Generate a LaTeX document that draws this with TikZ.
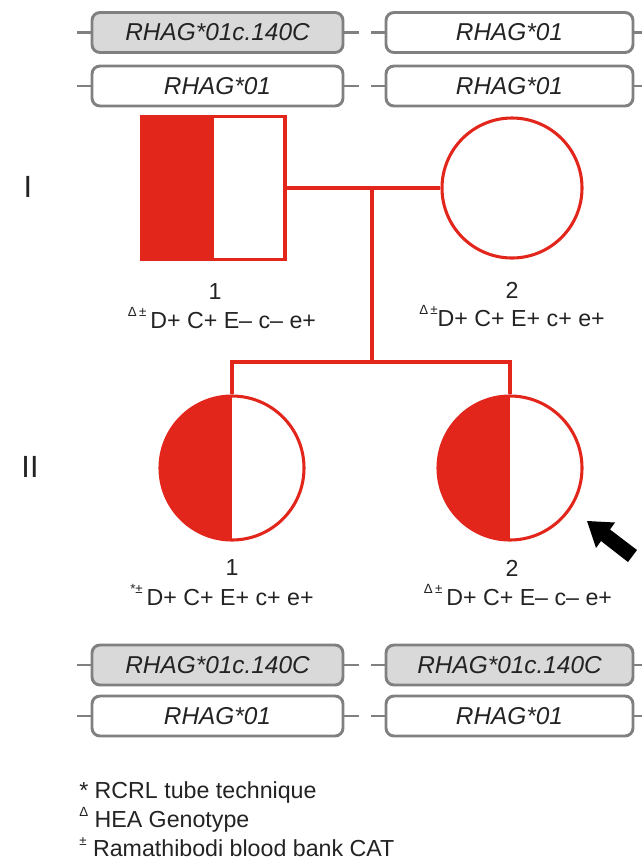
\documentclass[tikz,border=0pt]{standalone}
\usepackage{fontspec}
\setmainfont{Liberation Sans}
\usetikzlibrary{calc}
\definecolor{pedred}{RGB}{226,38,28}
\definecolor{boxgray}{RGB}{128,128,128}
\definecolor{boxfill}{RGB}{217,217,217}
\definecolor{textdark}{RGB}{35,35,35}
\newcommand\mk[1]{\raisebox{0.5em}{\fontsize{10}{10}\selectfont #1}}
\begin{document}
\begin{tikzpicture}[x=0.75pt,y=-0.75pt,
  allele/.style={draw=boxgray, line width=2.2pt, rounded corners=6pt,
    minimum height=30pt, inner sep=0pt, text=textdark,
    font=\fontsize{18.3}{20}\selectfont\itshape},
  variant/.style={allele, fill=boxfill},
  leftbox/.style={minimum width=188.25pt},
  rightbox/.style={minimum width=185.25pt},
  stub/.style={draw=boxgray, line width=2.2pt},
  ped/.style={draw=pedred, line width=2.3pt, inner sep=0pt},
  halffill/.style={path picture={\fill[pedred]
    (path picture bounding box.north west) rectangle (path picture bounding box.south);}},
  lbl/.style={inner sep=0pt, text=textdark, font=\fontsize{17.4}{20}\selectfont},
  gen/.style={inner sep=0pt, text=textdark, font=\fontsize{23}{26}\selectfont},
  leg/.style={inner sep=0pt, anchor=west, text=textdark, font=\fontsize{17.4}{20}\selectfont}]
\useasboundingbox (0,0) rectangle (642,861);

% allele boxes, parents
\node[variant, leftbox] (t1L) at (217.5,32.5) {RHAG*01c.140C};
\node[allele, rightbox] (t1R) at (509.5,32.5) {RHAG*01};
\node[allele, leftbox]  (t2L) at (217.5,86) {RHAG*01};
\node[allele, rightbox] (t2R) at (509.5,86) {RHAG*01};
% allele boxes, children
\node[variant, leftbox]  (b1L) at (217.5,665) {RHAG*01c.140C};
\node[variant, rightbox] (b1R) at (509.5,665) {RHAG*01c.140C};
\node[allele, leftbox]   (b2L) at (217.5,716) {RHAG*01};
\node[allele, rightbox]  (b2R) at (509.5,716) {RHAG*01};

\foreach \b in {t1L,t2L,b1L,b2L}{
  \draw[stub] (\b.west) -- ++(-14,0);
  \draw[stub] (\b.east) -- ++(15,0);
}
\foreach \b in {t1R,t2R,b1R,b2R}{
  \draw[stub] (\b.west) -- ++(-14,0);
  \draw[stub] (\b.east) -- ++(10,0);
}

% generations
\node[gen] (g1) at (28,187) {I};
\node[gen] (g2) at (30,467) {II};

% pedigree symbols
\node[ped, rectangle, minimum size=107.25pt, halffill] (I1) at (213.5,188) {};
\node[ped, circle, minimum size=105pt] (I2) at (512,188) {};
\node[ped, circle, minimum size=108pt, halffill] (II1) at (232,468) {};
\node[ped, circle, minimum size=108pt, halffill] (II2) at (510,468) {};

% marriage and sibship lines
\draw[ped] (I1.east) -- (I2.west);
\coordinate (m) at (372,188);
\coordinate (sib) at (372,362);
\draw[ped] (m) -- (sib);
\draw[ped] (II1.north) |- (sib) -| (II2.north);

% individual labels
\node[lbl] (n11) at (215,292) {1};
\node[lbl] (p11) at (222,318) {\mk{Δ\,±}\,D+ C+ E– c– e+};
\node[lbl] (n12) at (512,290) {2};
\node[lbl] (p12) at (512,316) {\mk{Δ\,±}D+ C+ E+ c+ e+};
\node[lbl] (n21) at (232,568) {1};
\node[lbl] (p21) at (222,595) {\mk{*±}\,D+ C+ E+ c+ e+};
\node[lbl] (n22) at (512,568) {2};
\node[lbl] (p22) at (518,595) {\mk{Δ\,±}\,D+ C+ E– c– e+};

% proband arrow
\fill[black] (587,521) -- (615,522.5) -- (610,529.5) -- (637,550)
  -- (628,562) -- (601,541) -- (596,548) -- cycle;

% legend
\node[leg] (k1) at (79,792) {* RCRL tube technique};
\node[leg] (k2) at (79,820) {\mk{Δ} HEA Genotype};
\node[leg] (k3) at (79,847) {\mk{±} Ramathibodi blood bank CAT};
\end{tikzpicture}
\end{document}
